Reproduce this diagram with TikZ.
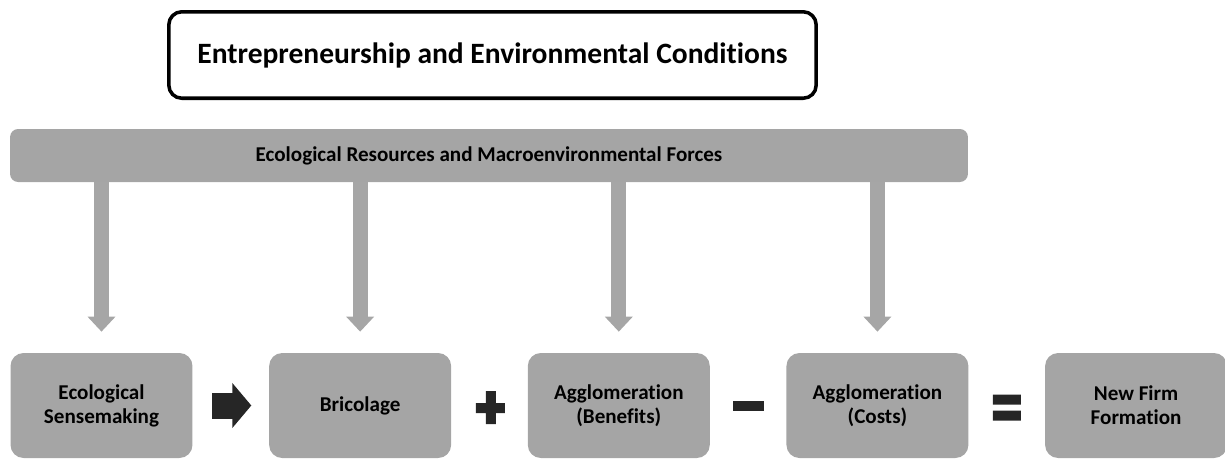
\documentclass[tikz,border=0pt]{standalone}
\usepackage{fontspec}
\setmainfont{Carlito}[Ligatures={NoCommon}]
\usetikzlibrary{positioning,calc,arrows.meta}
\definecolor{boxgray}{HTML}{A5A5A5}
\definecolor{arrgray}{HTML}{A6A6A6}
\definecolor{opblack}{HTML}{262626}
\tikzset{
stage/.style={fill=boxgray,rounded corners=0.26cm,minimum width=3.64cm,minimum height=2.1cm,
  align=center,inner sep=0pt,font=\fontsize{12}{13.6}\selectfont\bfseries},
drop/.style={arrgray,line width=0.3cm,-{Triangle[width=0.54cm,length=0.3cm]},shorten >=0.42cm}
}

\begin{document}
\begin{tikzpicture}[x=0.02cm, y=-0.02cm, line join=round]
\useasboundingbox (0,0) rectangle (1225,458);
\node[draw,line width=2pt,rounded corners=0.26cm,minimum width=12.95cm,minimum height=1.73cm,
  font=\fontsize{16.8}{20}\selectfont\bfseries] (title) at (492.5,55) {Entrepreneurship and Environmental Conditions};
\node[fill=boxgray,rounded corners=0.16cm,minimum width=19.16cm,minimum height=1.06cm,
  font=\fontsize{12}{14}\selectfont\bfseries] (forces) at (489,155.5) {Ecological Resources and Macroenvironmental Forces};
\node[stage]                        (sense)   at (101.5,405.5) {Ecological\\Sensemaking};
\node[stage,right=1.52cm of sense]   (brico)   {Bricolage};
\node[stage,right=1.52cm of brico]   (benefit) {Agglomeration\\(Benefits)};
\node[stage,right=1.52cm of benefit] (cost)    {Agglomeration\\(Costs)};
\node[stage,right=1.52cm of cost]    (firm)    {New Firm\\Formation};
\foreach \n in {sense,brico,benefit,cost}
  \draw[drop] (forces.south -| \n.north) -- (\n.north);
\draw[opblack,line width=0.52cm,-{Triangle[width=0.88cm,length=0.38cm]},shorten <=0.39cm,shorten >=0.35cm]
  (sense.east) -- (brico.west);
\coordinate (plus)  at ($(brico.east)!0.5!(benefit.west)$);
\coordinate (minus) at ($(benefit.east)!0.5!(cost.west)$);
\coordinate (equal) at ($(cost.east)!0.5!(firm.west)$);
\fill[opblack,shift={(plus)}]  (-13.5,-2.5) rectangle (15.5,7.5) (-3.5,-14.5) rectangle (6.5,18.5);
\fill[opblack,shift={(minus)}] (-15,-4.5) rectangle (16,5.5);
\fill[opblack,shift={(equal)}] (-14,-11) rectangle (14,-1) (-14,5) rectangle (14,15);
\end{tikzpicture}
\end{document}
